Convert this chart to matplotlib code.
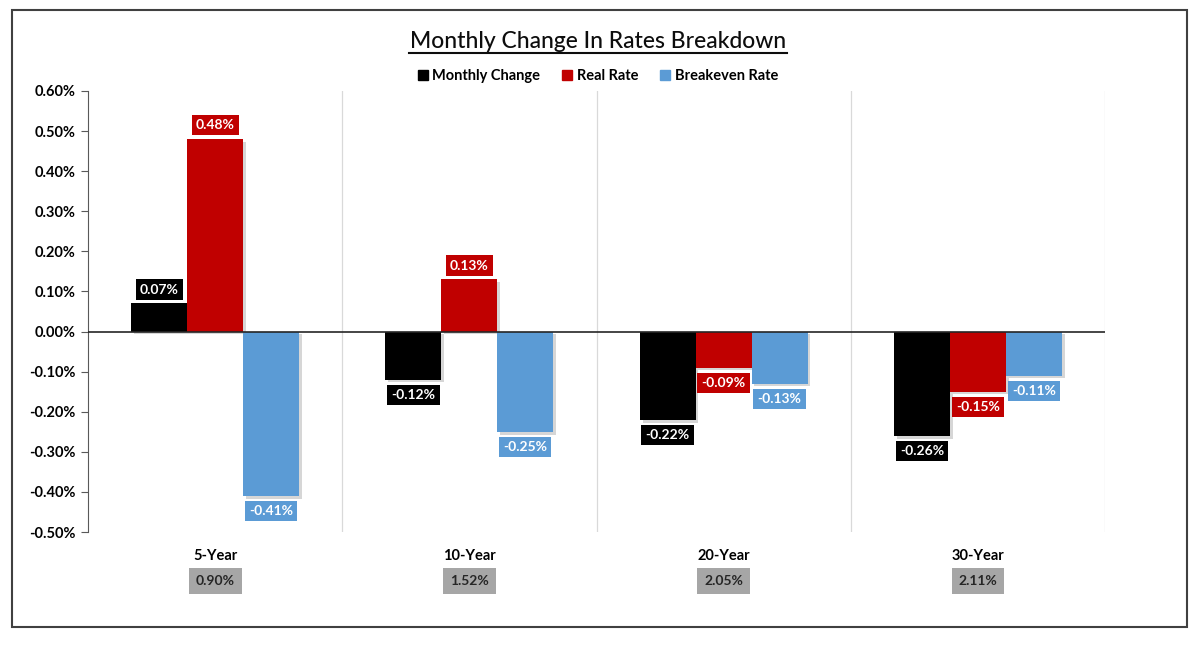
import matplotlib
matplotlib.use('Agg')
import numpy as np
from matplotlib import pyplot as plt
from matplotlib import patheffects as pe
from matplotlib.lines import Line2D
from matplotlib.patches import Rectangle, Patch

plt.rcParams['font.family'] = ['Lato', 'DejaVu Sans']

categories = ['5-Year', '10-Year', '20-Year', '30-Year']
series = ['Monthly Change', 'Real Rate', 'Breakeven Rate']
monthly = [0.07, -0.12, -0.22, -0.26]
real = [0.48, 0.13, -0.09, -0.15]
breakeven = [-0.41, -0.25, -0.13, -0.11]
levels = ['0.90%', '1.52%', '2.05%', '2.11%']
yticks = [-0.5, -0.4, -0.3, -0.2, -0.1, 0.0, 0.1, 0.2, 0.3, 0.4, 0.5, 0.6]
colors = ['#000000', '#c00000', '#5b9bd5']

fig = plt.figure(figsize=(12, 6.46), dpi=100)
ax = fig.add_axes([88/1200, 1-532/646, (1105-88)/1200, (532-91)/646])

x = np.arange(len(categories))
w = 0.22
shadow = [pe.SimplePatchShadow(offset=(2, -2), shadow_rgbFace='#8c8c8c', alpha=0.35), pe.Normal()]
for i, (name, vals) in enumerate(zip(series, [monthly, real, breakeven])):
    bars = ax.bar(x + (i - 1)*w, vals, w, color=colors[i], zorder=3)
    for b, v in zip(bars, vals):
        b.set_path_effects(shadow)
        off = 10 if v >= 0 else -11
        ax.annotate('%.2f%%' % v, (b.get_x() + b.get_width()/2, v),
                    xytext=(0, off), textcoords='offset points',
                    ha='center', va='center', color='white', fontsize=10, fontweight='bold',
                    bbox=dict(boxstyle='square,pad=0.3', fc=colors[i], ec='none'), zorder=5)

ax.set_xlim(-0.5, 3.5)
ax.set_ylim(-0.5, 0.6)
ax.set_yticks(yticks)
ax.set_yticklabels(['%.2f%%' % (t + 0.0) for t in yticks], fontsize=10.5, fontweight='bold')
ax.tick_params(axis='y', length=5, color='#595959', pad=4)
ax.set_xticks(x)
ax.set_xticklabels(categories, fontsize=10.5, fontweight='bold')
ax.tick_params(axis='x', length=0, pad=12)
for s in ['top', 'right', 'bottom']:
    ax.spines[s].set_visible(False)
ax.spines['left'].set_color('#595959')
ax.axhline(0, color='#262626', lw=1.2, zorder=4)
for sep in [0.5, 1.5, 2.5, 3.5]:
    ax.axvline(sep, color='#d9d9d9', lw=0.9, zorder=1)

for xi, lv in zip(x, levels):
    ax.annotate(lv, (xi, 0), xycoords=('data', 'axes fraction'), xytext=(0, -35),
                textcoords='offset points', ha='center', va='center', fontsize=10,
                fontweight='bold', color='#262626',
                bbox=dict(boxstyle='square,pad=0.5', fc='#a6a6a6', ec='none'))

fig.text(598/1200, 1-41/646, 'Monthly Change In Rates Breakdown', ha='center', va='center',
         fontsize=16.5, color='#0d0d0d', fontweight='medium')
fig.add_artist(Line2D([409/1200, 787/1200], [1-53/646, 1-53/646], color='#0d0d0d', lw=1.5))

handles = [Patch(color=c, label=n) for c, n in zip(colors, series)]
fig.legend(handles=handles, loc='center', bbox_to_anchor=(598/1200, 1-76/646), ncol=3, frameon=False,
           handlelength=0.7, handleheight=0.7, handletextpad=0.3, columnspacing=1.5,
           prop={'size': 10.5, 'weight': 'bold'})

fig.add_artist(Rectangle((12/1200, 1-627/646), 1175/1200, 617/646, transform=fig.transFigure,
                         fill=False, ec='#404040', lw=1.5))

fig.savefig('out.png', dpi=100)
